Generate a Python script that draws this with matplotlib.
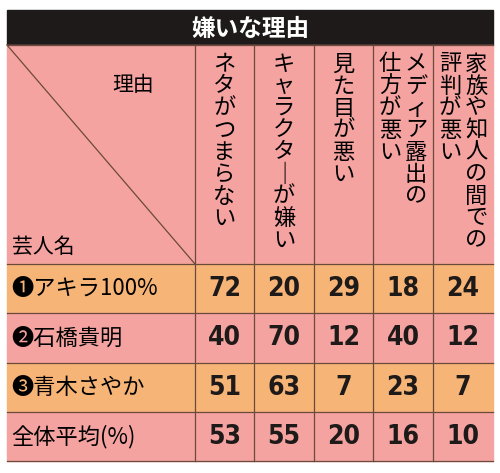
import matplotlib
matplotlib.use("Agg")
from matplotlib import pyplot as plt
from matplotlib.patches import Rectangle

plt.rcParams['font.family'] = ['Noto Sans CJK JP', 'DejaVu Sans']

title = "嫌いな理由"
reasons = [["ネタがつまらない"], ["キャラクタ｜が嫌い"], ["見た目が悪い"],
           ["メディア露出の", "仕方が悪い"], ["家族や知人の間での", "評判が悪い"]]
names = ["❶アキラ100%", "❷石橋貴明", "❸青木さやか", "全体平均(%)"]
values = [[72, 20, 29, 18, 24],
          [40, 70, 12, 40, 12],
          [51, 63, 7, 23, 7],
          [53, 55, 20, 16, 10]]

PINK = "#f5a3a1"
ORANGE = "#f7b477"
LINE = "#6b4a3a"

fig = plt.figure(figsize=(5, 4.73), dpi=100)
ax = fig.add_axes([0, 0, 1, 1])
ax.set_xlim(0, 500)
ax.set_ylim(473, 0)
ax.axis("off")

left, right, top = 7, 493, 10
title_bot, head_bot = 45, 264
col_x = [195, 254, 314, 373, 433, 493]
row_y = [264, 313, 363, 412, 461]

# title bar
ax.add_patch(Rectangle((left, top), right - left, title_bot - top, color="#1e1a1a"))
ax.text((left + right) / 2, (top + title_bot) / 2 + 1, title, color="white",
        fontsize=17, fontweight="bold", ha="center", va="center")

# header
ax.add_patch(Rectangle((left, title_bot), right - left, head_bot - title_bot, color=PINK))
ax.plot([left, col_x[0]], [title_bot, head_bot], color=LINE, lw=0.9)
ax.text(133, 85, "理由", fontsize=15, ha="center", va="center")
ax.text(12, 247, "芸人名", fontsize=15, ha="left", va="center")

step = 22
for j, lines in enumerate(reasons):
    cx = (col_x[j] + col_x[j + 1]) / 2
    n = len(lines)
    offs = [0] if n == 1 else [13, -13]
    for k, line in enumerate(lines):
        for m, ch in enumerate(line):
            ax.text(cx + offs[k], 64 + m * step, ch, fontsize=16,
                    ha="center", va="center")

# body rows
for i, name in enumerate(names):
    y0, y1 = row_y[i], row_y[i + 1]
    ax.add_patch(Rectangle((left, y0), right - left, y1 - y0,
                           color=ORANGE if i % 2 == 0 else PINK))
    ax.text(11, (y0 + y1) / 2, name, fontsize=16, ha="left", va="center")
    for j, v in enumerate(values[i]):
        cx = (col_x[j] + col_x[j + 1]) / 2
        ax.text(cx, (y0 + y1) / 2, str(v), fontsize=19, fontweight="bold",
                ha="center", va="center", color="#1e1a1a",
                family="DejaVu Sans", fontstretch="condensed")

# grid lines
for y in [title_bot] + row_y:
    ax.plot([left, right], [y, y], color=LINE, lw=0.9)
for x in col_x[:-1]:
    ax.plot([x, x], [title_bot, row_y[-1]], color=LINE, lw=0.9)

fig.savefig("out.png", dpi=100)
